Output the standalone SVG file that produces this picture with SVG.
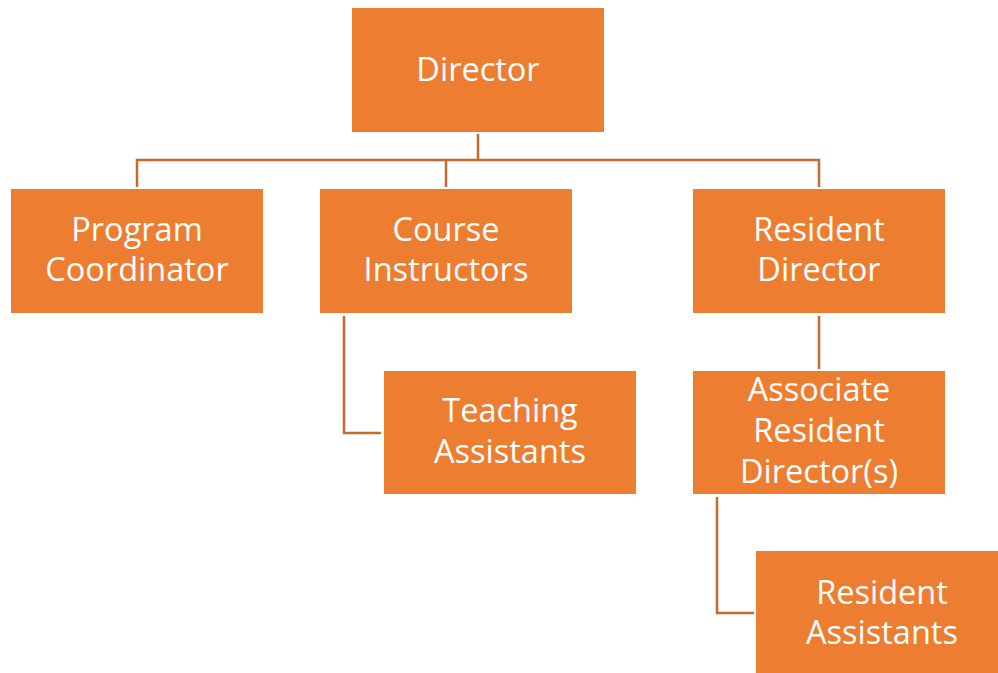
<svg xmlns="http://www.w3.org/2000/svg" width="998" height="673" viewBox="0 0 998 673">
<style>
.box{fill:#ED7D31}
.t{fill:#fff;font-family:"Open Sans","Noto Sans",sans-serif;font-size:32.5px;text-anchor:middle}
.c{fill:none;stroke:#C5692E;stroke-width:2.5}
</style>
<rect width="998" height="673" fill="#fff"/>
<g id="connectors">
<path class="c" d="M478 134V160M137 187V160H819V187M446 160V187"/>
<path class="c" d="M344 316V433H381"/>
<path class="c" d="M819 316V369"/>
<path class="c" d="M717 497V613H754"/>
</g>
<g id="director"><rect class="box" x="352" y="8" width="252" height="124"/><text class="t" x="478" y="81">Director</text></g>
<g id="program-coordinator"><rect class="box" x="11" y="189" width="252" height="124"/><text class="t" x="137" y="241">Program</text><text class="t" x="137" y="281">Coordinator</text></g>
<g id="course-instructors"><rect class="box" x="320" y="189" width="252" height="124"/><text class="t" x="446" y="241">Course</text><text class="t" x="446" y="281">Instructors</text></g>
<g id="resident-director"><rect class="box" x="693" y="189" width="252" height="124"/><text class="t" x="819" y="241">Resident</text><text class="t" x="819" y="281">Director</text></g>
<g id="teaching-assistants"><rect class="box" x="384" y="371" width="252" height="123"/><text class="t" x="510" y="422">Teaching</text><text class="t" x="510" y="463">Assistants</text></g>
<g id="associate-resident-directors"><rect class="box" x="693" y="371" width="252" height="123"/><text class="t" x="819" y="401">Associate</text><text class="t" x="819" y="442">Resident</text><text class="t" x="819" y="483">Director(s)</text></g>
<g id="resident-assistants"><rect class="box" x="756" y="551" width="242" height="122"/><text class="t" x="882" y="604">Resident</text><text class="t" x="882" y="644">Assistants</text></g>
</svg>
